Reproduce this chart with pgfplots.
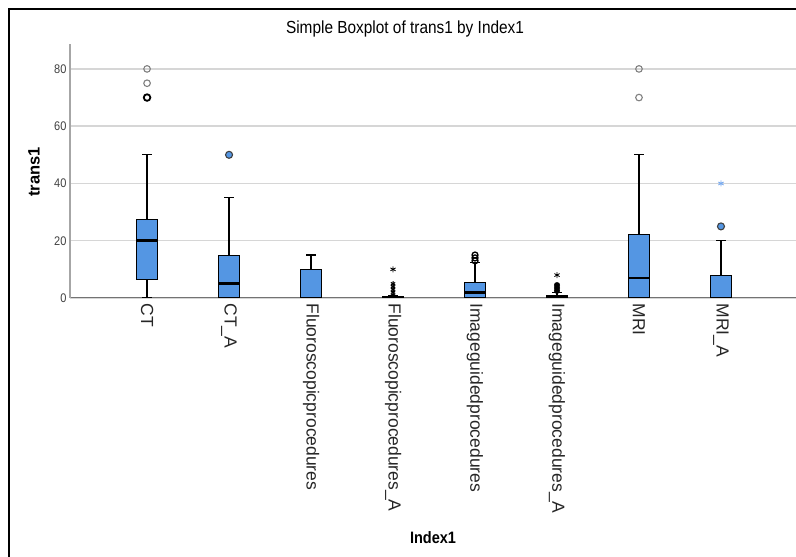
\documentclass[border=0pt]{standalone}
\usepackage{fontspec}
\setmainfont{Liberation Sans}
\newfontfamily\nfont[FakeStretch=0.88]{Liberation Sans}
\usepackage{pgfplots}
\pgfplotsset{compat=1.18}
\usepgfplotslibrary{statistics}
\definecolor{boxblue}{RGB}{84,150,227}
\definecolor{gridgray}{RGB}{214,214,214}
\definecolor{starblue}{RGB}{120,170,240}
\pgfplotsset{
  mybox/.style={boxplot prepared={#1}, fill=boxblue, draw=black, line width=1pt, solid, mark=none,
    boxplot/draw direction=y,
    boxplot/every median/.style={line width=2.8pt, draw=black},
    boxplot/every whisker/.style={line width=1.3pt, draw=black},
    boxplot/box extend=0.26, boxplot/whisker extend=0.12}
}
\begin{document}
\begin{tikzpicture}
\useasboundingbox (0pt,0pt) rectangle (796pt,557pt);
\draw[line width=2pt] (9pt,0pt) -- (9pt,548pt) -- (796pt,548pt);
\begin{axis}[
  at={(70pt,259pt)}, anchor=south west,
  width=726pt, height=254pt, scale only axis,
  xmin=-0.94, xmax=7.915, ymin=0, ymax=88.7,
  enlargelimits=false,
  axis x line=bottom, axis y line=left,
  x axis line style={-, draw=black!55, line width=1pt},
  y axis line style={-, draw=black!35, line width=2.2pt},
  major tick length=0pt,
  xtick={0,1,2,3,4,5,6,7},
  xticklabels={CT,CT\_A,Fluoroscopicprocedures,Fluoroscopicprocedures\_A,Imageguidedprocedures,Imageguidedprocedures\_A,MRI,MRI\_A},
  x tick label style={rotate=-90, anchor=west, font=\fontsize{17.5}{17.5}\selectfont, text=black!85, xshift=2pt},
  ytick={0,20,40,60,80},
  y tick label style={font=\nfont\fontsize{12.5}{12.5}\selectfont, text=black!75},
  /pgf/number format/assume math mode=true,
  ymajorgrids, grid style={draw=gridgray, line width=1.5pt},
]
% boxes
\addplot[mybox={draw position=0, lower whisker=0, lower quartile=6.5, median=20, upper quartile=27.5, upper whisker=50}] coordinates {};
\addplot[mybox={draw position=1, lower whisker=0, lower quartile=0, median=5, upper quartile=15, upper whisker=35}] coordinates {};
\addplot[mybox={draw position=2, lower whisker=0, lower quartile=0, median=0, upper quartile=10, upper whisker=15}] coordinates {};
\addplot[mybox={draw position=3, lower whisker=0, lower quartile=0, median=0, upper quartile=0.6, upper whisker=0.8}] coordinates {};
\addplot[mybox={draw position=4, lower whisker=0, lower quartile=0, median=2, upper quartile=5.3, upper whisker=12.5}] coordinates {};
\addplot[mybox={draw position=5, lower whisker=0, lower quartile=0, median=0.4, upper quartile=1, upper whisker=2}] coordinates {};
\addplot[mybox={draw position=6, lower whisker=0, lower quartile=0, median=7, upper quartile=22, upper whisker=50}] coordinates {};
\addplot[mybox={draw position=7, lower whisker=0, lower quartile=0, median=0, upper quartile=8, upper whisker=20}] coordinates {};
% outliers
\addplot[only marks, mark=o, mark size=3.3pt, draw=black!50, line width=1.1pt] coordinates {(0,80) (0,75) (6,80) (6,70)};
\addplot[only marks, mark=o, mark size=3.3pt, draw=black, line width=1.8pt] coordinates {(0,70)};
\addplot[only marks, mark=*, mark size=3.5pt, fill=boxblue, draw=black!75, line width=1.1pt] coordinates {(1,50) (7,25)};
\addplot[only marks, mark=o, mark size=3pt, draw=black, line width=1.3pt] coordinates {(4,13) (4,14) (4,15)};
\addplot[only marks, mark=asterisk, mark size=3pt, draw=black, line width=0.8pt] coordinates {(3,10) (5,8)};
\addplot[only marks, mark=asterisk, mark size=2.5pt, draw=black, line width=1pt] coordinates {(3,1) (3,2) (3,3) (3,4) (3,5)};
\addplot[only marks, mark=*, mark size=2.8pt, fill=black, draw=black] coordinates {(5,2.5) (5,3.5) (5,4.5)};
\addplot[only marks, mark=asterisk, mark size=3pt, draw=starblue, line width=0.9pt] coordinates {(7,40)};
\end{axis}
\node[font=\nfont\fontsize{17.5}{20}\selectfont] at (405pt,528pt) {Simple Boxplot of trans1 by Index1};
\node[rotate=90, font=\bfseries\fontsize{16.5}{18}\selectfont] at (34pt,385pt) {trans1};
\node[font=\nfont\bfseries\fontsize{16.5}{18}\selectfont] at (433pt,19pt) {Index1};
\end{tikzpicture}
\end{document}
